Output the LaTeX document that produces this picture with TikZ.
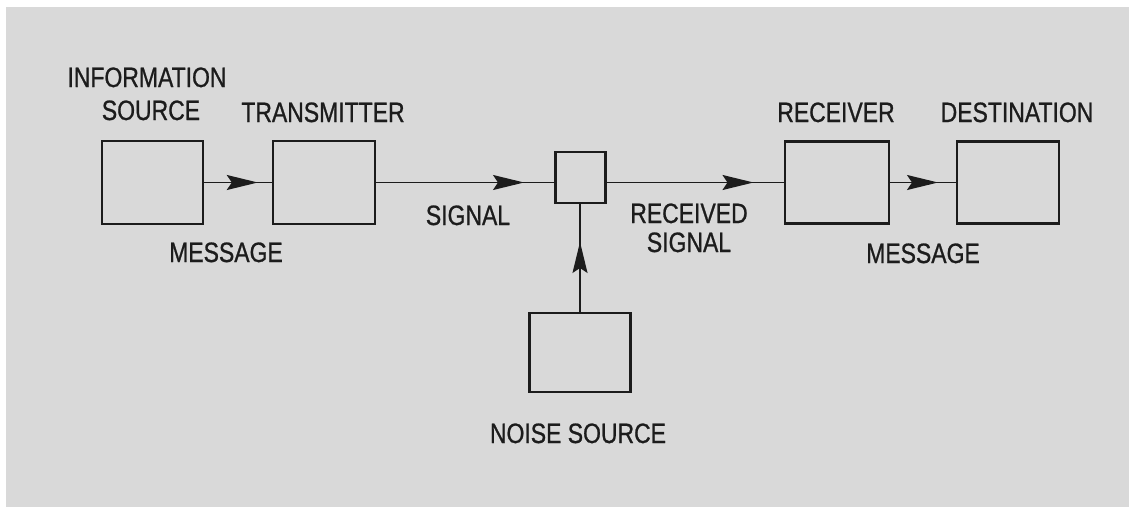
\documentclass[tikz,border=0pt]{standalone}
\usepackage{fontspec}
\setmainfont{Liberation Sans}[FakeStretch=0.82,FakeBold=0.8]
\usetikzlibrary{arrows.meta,decorations.markings}
\definecolor{paper}{HTML}{D9D9D9}
\definecolor{ink}{HTML}{1C1C1C}
\begin{document}
\begin{tikzpicture}[x=1pt,y=-1pt,
  blk/.style={draw=ink, line width=2.4pt, inner sep=0pt, outer sep=0pt},
  lbl/.style={text=ink, inner sep=0pt, anchor=base, font=\fontsize{28}{30}\selectfont},
  wire/.style={draw=ink, line width=1.5pt},
  arr/.style={decoration={markings, mark=at position #1 with {\arrow{Stealth[length=31pt,width=15pt,inset=5pt]}}}, postaction={decorate}, fill=ink}
]
\useasboundingbox (0,0) rectangle (1132,511);
\fill[white] (0,0) rectangle (1132,511);
\fill[paper] (6,7) rectangle (1129,507);

% boxes
\node[blk, minimum width=101pt, minimum height=83pt] (src) at (152.3,182.5) {};
\node[blk, minimum width=102pt, minimum height=83pt] (tx)  at (324,182.5) {};
\node[blk, minimum width=50pt,  minimum height=51pt] (mix) at (580.5,177.5) {};
\node[blk, minimum width=104pt, minimum height=82pt] (rx)  at (837,182.5) {};
\node[blk, minimum width=102pt, minimum height=82pt] (dst) at (1008,182.5) {};
\node[blk, minimum width=101pt, minimum height=79pt] (ns)  at (580,352.5) {};

% connectors
\draw[wire, arr=55pt] (src.east) -- (tx.west);
\draw[wire, arr=149pt] (tx.east) -- (tx.east -| mix.west);
\draw[wire, arr=148pt] (rx.west -| mix.east) -- (rx.west);
\draw[wire, arr=49pt] (rx.east) -- (dst.west);
\draw[wire, arr=71pt] (ns.north) -- (ns.north |- mix.south);

% labels
\node[lbl] (l1) at (147,87) {INFORMATION};
\node[lbl] (l2) at (151,120) {SOURCE};
\node[lbl] (l3) at (323,122) {TRANSMITTER};
\node[lbl] (l4) at (226,262) {MESSAGE};
\node[lbl] (l5) at (468,225) {SIGNAL};
\node[lbl] (l6) at (689,223) {RECEIVED};
\node[lbl] (l7) at (689,252) {SIGNAL};
\node[lbl] (l8) at (836,122) {RECEIVER};
\node[lbl] (l9) at (1017,122) {DESTINATION};
\node[lbl] (l10) at (923,263) {MESSAGE};
\node[lbl] (l11) at (578,443) {NOISE SOURCE};
\end{tikzpicture}
\end{document}
